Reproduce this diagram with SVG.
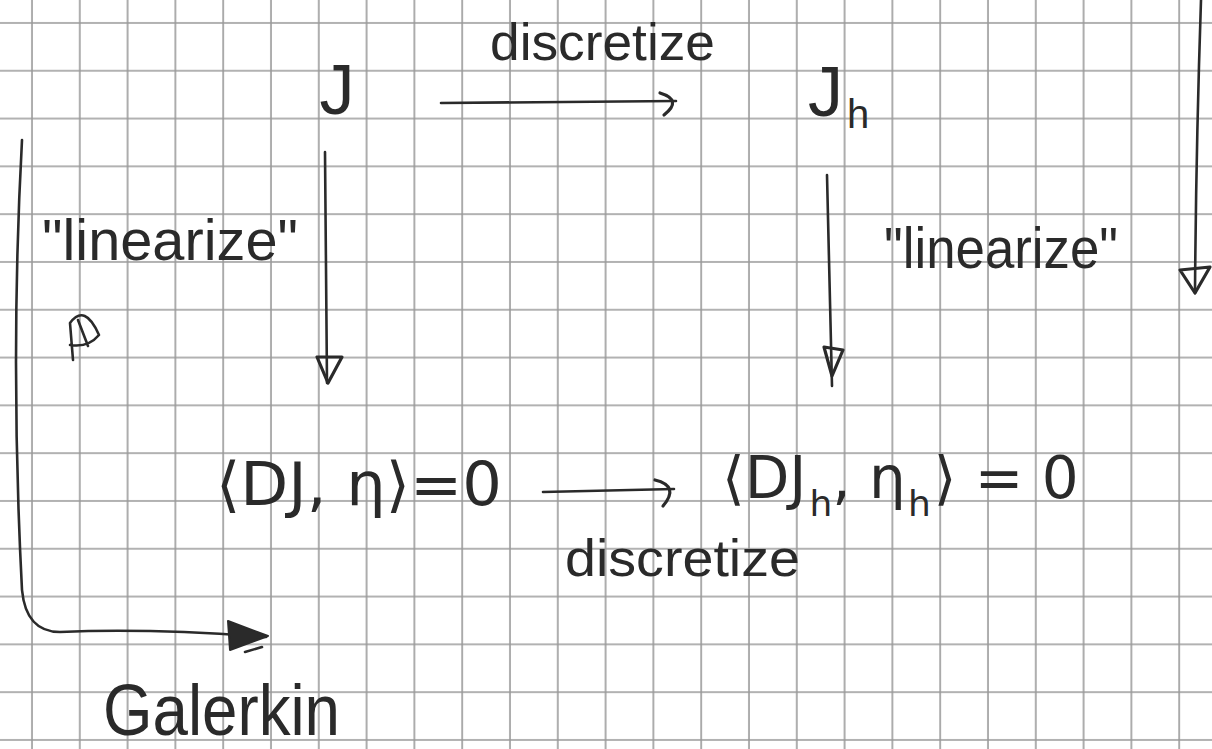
<svg xmlns="http://www.w3.org/2000/svg" width="1212" height="749" viewBox="0 0 1212 749">
<defs>
<pattern id="grid" patternUnits="userSpaceOnUse" x="22" y="13" width="47.8" height="47.8">
<path d="M0 10 H47.8 M10 0 V47.8" stroke="#999999" stroke-width="1.6" fill="none"/>
</pattern>
<style>
.t{font-family:"Liberation Sans","DejaVu Sans",sans-serif;fill:#2a2a2a;}
.m{font-family:"DejaVu Sans","Liberation Sans",sans-serif;fill:#2a2a2a;}
.pen{fill:none;stroke:#2a2a2a;stroke-width:2.6;stroke-linecap:round;stroke-linejoin:round;}
.head{fill:none;stroke:#2a2a2a;stroke-width:3.2;stroke-linecap:round;stroke-linejoin:round;}
</style>
</defs>
<rect width="1212" height="749" fill="#ffffff"/>
<rect width="1212" height="749" fill="url(#grid)"/>

<g id="node-J">
<text class="t" x="337" y="114" font-size="70" text-anchor="middle">J</text>
</g>
<g id="node-Jh">
<text class="t" x="808" y="116" font-size="70">J<tspan font-size="40" dx="4" dy="12">h</tspan></text>
</g>
<g id="node-DJ">
<text class="m" x="216" y="505" font-size="60" textLength="286" lengthAdjust="spacingAndGlyphs">⟨DJ, η⟩=0</text>
</g>
<g id="node-DJh">
<text class="m" x="722" y="498" font-size="58">⟨DJ<tspan font-size="36" dx="3" dy="18">h</tspan><tspan dy="-18">, η</tspan><tspan font-size="36" dx="2" dy="18">h</tspan><tspan dx="3" dy="-18">⟩ = 0</tspan></text>
</g>
<g id="node-galerkin">
<text class="t" x="103" y="735" font-size="72" textLength="237" lengthAdjust="spacingAndGlyphs">Galerkin</text>
</g>

<g id="labels">
<text class="t" x="490" y="60" font-size="52" textLength="225" lengthAdjust="spacingAndGlyphs">discretize</text>
<text class="t" x="42" y="260" font-size="58" textLength="256" lengthAdjust="spacingAndGlyphs">"linearize"</text>
<text class="t" x="884" y="268" font-size="58" textLength="234" lengthAdjust="spacingAndGlyphs">"linearize"</text>
<text class="t" x="565" y="576" font-size="52" textLength="235" lengthAdjust="spacingAndGlyphs">discretize</text>
</g>

<g id="connectors">
<path class="pen" d="M441 103 L676 101"/>
<path class="head" d="M660 93 Q683 100 664 115"/>
<path class="pen" d="M543 492 L674 489"/>
<path class="head" d="M655 480 Q680 486 663 506"/>
<path class="pen" d="M325 152 L327 383"/>
<path class="head" d="M317 357 L342 357 L328 383 Z"/>
<path class="pen" d="M827 175 L832 386"/>
<path class="head" d="M824 347 L843 350 L832 376 Z"/>
<path class="pen" d="M1201 0 Q1196 150 1195 293"/>
<path class="head" d="M1180 270 L1210 267 L1195 293 Z"/>
<path class="pen" d="M22 140 Q10 360 22 590 Q26 632 60 632 Q150 628 266 637"/>
<path d="M228 621 L268 636 L230 650 Z" fill="#2a2a2a" stroke="#2a2a2a" stroke-width="2" stroke-linejoin="round"/>
<path class="pen" d="M245 652 L262 647"/>
<path class="pen" d="M73 360 L70 323 Q85 303 99 335 Q88 348 70 345 M78 320 L88 346"/>
</g>
</svg>
